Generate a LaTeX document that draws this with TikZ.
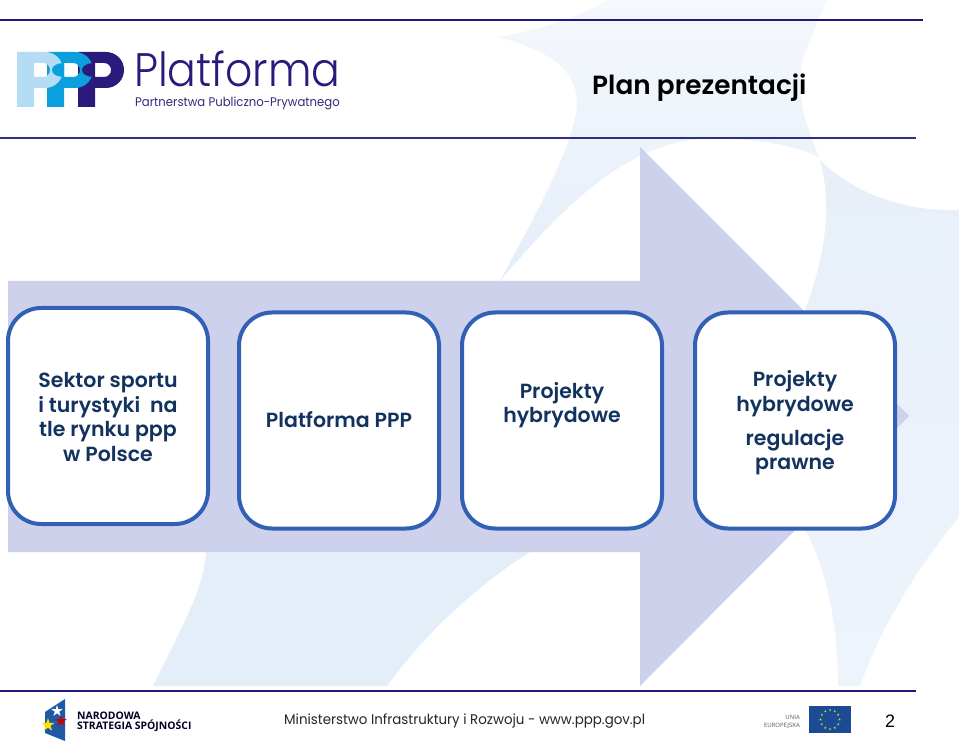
\documentclass[tikz,border=0pt]{standalone}
\usepackage{fontspec}
\setmainfont{Poppins}
\newfontfamily\gothicbold{Poppins SemiBold}
\newfontfamily\gothiclight{Poppins Light}
\newfontfamily\arialfont{Liberation Sans}
\newfontfamily\labelfont{Open Sans}
\definecolor{rulea}{HTML}{1E1A78}
\definecolor{ruleb}{HTML}{2E3182}
\definecolor{arrowfill}{HTML}{CDD1EC}
\definecolor{boxline}{HTML}{3160B4}
\definecolor{boxtext}{HTML}{12335F}
\definecolor{paleA}{HTML}{F5F8FD}
\definecolor{paleM}{HTML}{F0F5FB}
\definecolor{paleB}{HTML}{E4EEF8}
\definecolor{paleC}{HTML}{E7EFF9}
\definecolor{paleD}{HTML}{EEF4FC}
\definecolor{logoA}{HTML}{B5DCF5}
\definecolor{logoB}{HTML}{0BA0DD}
\definecolor{logoC}{HTML}{2B1A7C}
\definecolor{eublue}{HTML}{1B4B94}
\definecolor{flagblue}{HTML}{1F5AA6}
\tikzset{
  boxshape/.style={draw=boxline,line width=4pt,fill=white,rounded corners=33pt,minimum width=200pt,minimum height=216pt,inner sep=0pt},
  boxlabel/.style={text=boxtext,align=center,inner sep=0pt,font=\gothicbold\fontsize{20.5}{24.5}\selectfont},
  rulestyle/.style={line width=2pt}
}
\newcommand{\logoP}[2]{% colour, left x
  \fill[#1,even odd rule,shift={(#2,0)}]
    (0,107)--(0,52)--(28,52) .. controls (38,52) and (46,60) .. (46,70) .. controls (46,80) and (38,88) .. (28,88)--(17,88)--(17,107)--cycle
    (17,63)--(26,63) .. controls (30,63) and (33,66) .. (33,70) .. controls (33,74) and (30,77) .. (26,77)--(17,77)--cycle;
}
\newcommand{\starshape}{(0,-1)--(.22,-.31)--(.95,-.31)--(.36,.12)--(.59,.81)--(0,.38)--(-.59,.81)--(-.36,.12)--(-.95,-.31)--(-.22,-.31)--cycle}
\begin{document}
\begin{tikzpicture}[x=1pt,y=-1pt]
\useasboundingbox (0,0) rectangle (959,743);
\fill[white] (0,0) rectangle (959,743);
% watermark
\path[top color=paleA,middle color=paleM,bottom color=paleB,draw=none]
  (497,37) .. controls (540,30) and (585,15) .. (607,0) -- (827,0)
  .. controls (815,30) and (800,55) .. (800,80) .. controls (800,110) and (810,135) .. (819,157)
  .. controls (790,143) and (740,136) .. (690,140) .. controls (620,150) and (560,210) .. (500,281)
  .. controls (530,225) and (578,140) .. (577,100) .. controls (575,70) and (550,50) .. (497,37) -- cycle;
\path[top color=paleC,bottom color=paleD,draw=none] (820,160) .. controls (850,190) and (900,212) .. (959,210) -- (959,517)
  .. controls (915,570) and (880,630) .. (860,686) -- (838,686)
  .. controls (838,620) and (825,565) .. (805,530) -- (805,310) .. controls (820,270) and (835,215) .. (820,160) -- cycle;
\fill[paleB] (206,552) .. controls (204,590) and (180,630) .. (153,686) -- (387,686)
  .. controls (420,640) and (470,590) .. (530,552) -- cycle;
% arrow
\fill[arrowfill] (8,281)--(640,281)--(640,147)--(909,416)--(640,686)--(640,552)--(8,552)--cycle;
% rules
\coordinate (r1a) at (0,20.5); \coordinate (r1b) at (923,20.5);
\coordinate (r2a) at (0,138.5); \coordinate (r2b) at (916,138.5);
\coordinate (r3a) at (0,690.5); \coordinate (r3b) at (916,690.5);
\draw[rulestyle,rulea] (r1a)--(r1b);
\draw[rulestyle,ruleb] (r2a)--(r2b);
\draw[rulestyle,rulea] (r3a)--(r3b);
% logo
\logoP{logoC}{78}
\logoP{logoB}{47}
\logoP{logoA}{17}
\fill[logoB] (64,63) .. controls (57,63) and (52,66) .. (52,70) .. controls (52,74) and (57,77) .. (64,77) -- cycle;
\fill[logoC] (94,63) .. controls (87,63) and (82,66) .. (82,70) .. controls (82,74) and (87,77) .. (94,77) -- cycle;
\node[anchor=base west,inner sep=0pt,text=logoC,xscale=.905,transform shape,font=\gothiclight\fontsize{47}{47}\selectfont] (plat) at (134,87) {Platforma};
\node[anchor=base west,inner sep=0pt,text=logoC!85!gray,xscale=.935,transform shape,font=\fontsize{12.5}{12.5}\selectfont] (pps) at (135,107) {Partnerstwa Publiczno-Prywatnego};
\node[anchor=base west,inner sep=0pt,font=\gothicbold\fontsize{26.3}{26.3}\selectfont] (title) at (592,95) {Plan prezentacji};
% boxes
\node[boxshape] (b1) at (108,416) {};
\node[boxshape] (b2) at (339,420.5) {};
\node[boxshape] (b3) at (562,420.5) {};
\node[boxshape] (b4) at (795,420.5) {};
\node[boxlabel] (t1) at (108,417) {Sektor sportu\\i turystyki\ \ na\\tle rynku ppp\\w Polsce};
\node[boxlabel] (t2) at (339,420) {Platforma PPP};
\node[boxlabel] (t3) at (562,405) {Projekty\\hybrydowe};
\node[boxlabel] (t4) at (795,423) {Projekty\\hybrydowe\\[9.5pt]regulacje\\prawne};
% footer
\fill[flagblue] (45,712)--(65,699)--(65,741)--(45,733)--cycle;
\fill[white,shift={(57,711)},scale=6] \starshape;
\fill[yellow!85!orange,shift={(48,725)},scale=7] \starshape;
\fill[red!80!black,shift={(61,721)},scale=6] \starshape;
\node[anchor=base west,inner sep=0pt,text=black!85!blue,font=\labelfont\bfseries\fontsize{10.4}{10.4}\selectfont] (nss1) at (77,719) {NARODOWA};
\node[anchor=base west,inner sep=0pt,text=black!85!blue,font=\labelfont\bfseries\fontsize{10.4}{10.4}\selectfont] (nss2) at (77,729) {STRATEGIA SPÓJNOŚCI};
\node[anchor=base west,inner sep=0pt,text=black!85,xscale=.957,transform shape,font=\fontsize{14}{14}\selectfont] (foot) at (284,724.5) {Ministerstwo Infrastruktury i Rozwoju - www.ppp.gov.pl};
\node[anchor=base east,inner sep=0pt,text=black!65,font=\labelfont\fontsize{6}{6}\selectfont] (ue1) at (800,719) {UNIA};
\node[anchor=base east,inner sep=0pt,text=black!65,font=\labelfont\fontsize{6}{6}\selectfont] (ue2) at (800,727) {EUROPEJSKA};
\fill[eublue] (809,706) rectangle (851,733);
\foreach \a in {0,30,...,330}
  \fill[yellow!80!green,shift={({830+9.5*cos(\a)},{719.5+9.5*sin(\a)})},scale=1.3] \starshape;
\node[anchor=base,inner sep=0pt,text=black,font=\arialfont\fontsize{18}{18}\selectfont] (pg) at (890,727) {2};
\end{tikzpicture}
\end{document}
